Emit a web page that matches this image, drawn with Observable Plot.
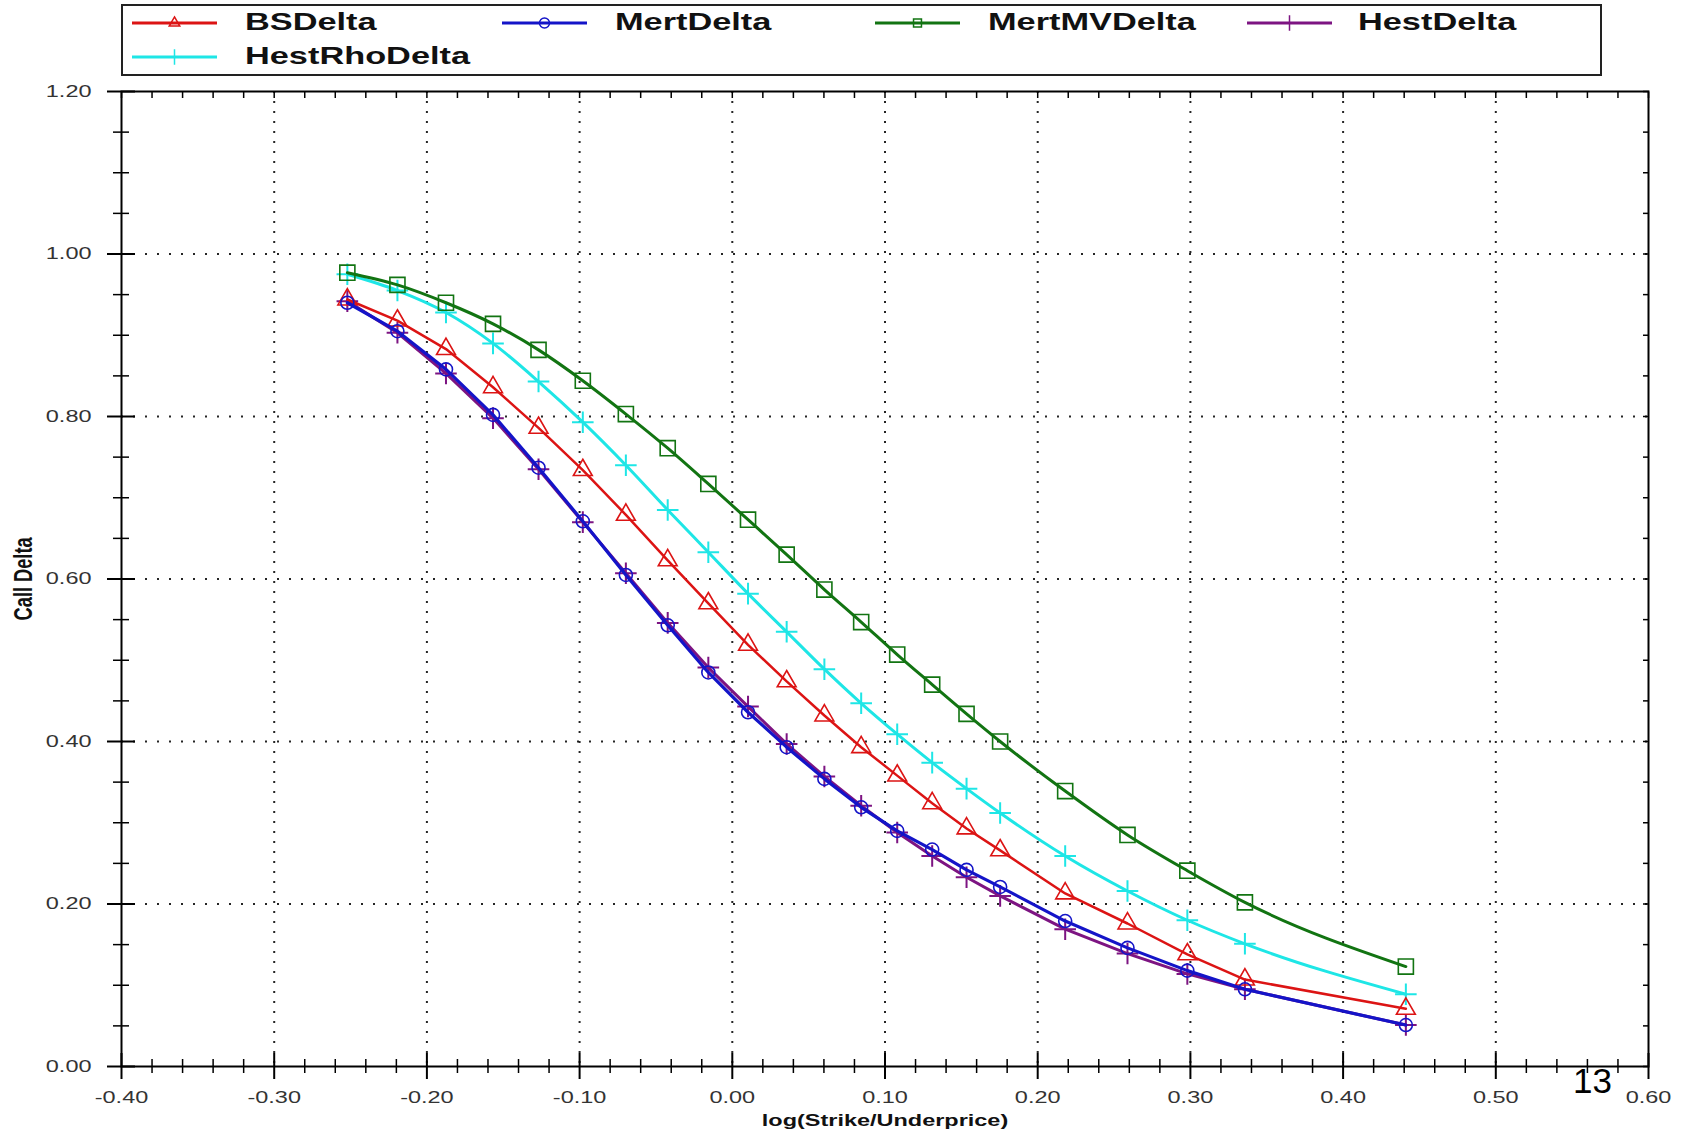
<!DOCTYPE html>
<html>
<head>
<meta charset="utf-8">
<script src="https://cdn.jsdelivr.net/npm/d3@7"></script>
<script src="https://cdn.jsdelivr.net/npm/@observablehq/plot@0.6"></script>
<style>
html, body { margin: 0; padding: 0; background: #fff; overflow: hidden; }
#wrap { position: relative; width: 1683px; height: 1135px; }
#legend { position: absolute; left: 121px; top: 4px; width: 1477px; height: 68px; border: 2px solid #222; background: #fff; }
.lbl { position: absolute; font-family: 'Liberation Sans', Arial, sans-serif; font-size: 24px; font-weight: bold; line-height: 24px; color: #111;
       transform: scaleX(1.43); transform-origin: left center; white-space: nowrap; }
.sw { position: absolute; overflow: visible; }
#chart { position: absolute; left: 0; top: 80px; }
#page { position: absolute; left: 1573px; top: 1063px; font-family: 'Liberation Sans', Arial, sans-serif; font-size: 35px; line-height: 35px; color: #000; }
</style>
</head>
<body>
<div id="wrap">
  <div id="legend"></div>
  <div id="chart"></div>
  <div id="page">13</div>
</div>
<script>
// ---- data ----
const logMoneyness = [-0.2521, -0.2193, -0.1875, -0.1567, -0.1269, -0.0979, -0.0697, -0.0423, -0.0157, 0.0103, 0.0356,
  0.0603, 0.0844, 0.1080, 0.1309, 0.1534, 0.1754, 0.2180, 0.2588, 0.2980, 0.3357, 0.4411];
const bsDelta = [0.944, 0.918, 0.883, 0.836, 0.786, 0.734, 0.679, 0.623, 0.570, 0.519, 0.474,
  0.432, 0.393, 0.358, 0.324, 0.293, 0.266, 0.213, 0.176, 0.138, 0.107, 0.071];
const mertDelta = [0.940, 0.905, 0.858, 0.802, 0.737, 0.671, 0.605, 0.543, 0.485, 0.436, 0.393,
  0.354, 0.319, 0.290, 0.267, 0.242, 0.221, 0.179, 0.146, 0.118, 0.095, 0.051];
const mertMVDelta = [0.977, 0.962, 0.940, 0.914, 0.882, 0.844, 0.803, 0.761, 0.717, 0.673, 0.630,
  0.587, 0.547, 0.507, 0.470, 0.434, 0.400, 0.339, 0.285, 0.241, 0.202, 0.123];
const hestDelta = [0.942, 0.903, 0.853, 0.798, 0.735, 0.670, 0.607, 0.546, 0.491, 0.443, 0.397,
  0.357, 0.321, 0.288, 0.259, 0.233, 0.210, 0.169, 0.139, 0.114, 0.095, 0.051];
const hestRhoDelta = [0.975, 0.955, 0.928, 0.890, 0.843, 0.793, 0.740, 0.685, 0.633, 0.582, 0.535,
  0.489, 0.447, 0.409, 0.374, 0.342, 0.312, 0.259, 0.216, 0.180, 0.151, 0.089];

const seriesNames = ["BSDelta", "MertDelta", "MertMVDelta", "HestDelta", "HestRhoDelta"];
const seriesColors = ["#dc1414", "#1414c8", "#127412", "#7d1482", "#1ee6e6"];
const seriesSymbols = ["triangle", "circle", "square", "plus", "plus"];

const xTicks = [-0.4, -0.3, -0.2, -0.1, 0, 0.1, 0.2, 0.3, 0.4, 0.5, 0.6];
const yTicks = [0, 0.2, 0.4, 0.6, 0.8, 1.0, 1.2];
const xGridTicks = [-0.3, -0.2, -0.1, 0, 0.1, 0.2, 0.3, 0.4, 0.5];
const yGridTicks = [0.2, 0.4, 0.6, 0.8, 1.0];
const xTitle = "log(Strike/Underprice)";
const yTitle = "Call Delta";

// minor tick positions (axis decoration)
const xMinor = d3.range(0, 51).map(i => +(-0.4 + i * 0.02).toFixed(2)).filter(v => !xTicks.some(t => Math.abs(t - v) < 1e-9));
const yMinor = d3.range(0, 25).map(i => +(i * 0.05).toFixed(2)).filter(v => !yTicks.some(t => Math.abs(t - v) < 1e-9));
const xAllTop = d3.range(0, 51).map(i => +(-0.4 + i * 0.02).toFixed(2));
const yAllRight = d3.range(0, 25).map(i => +(i * 0.05).toFixed(2));

const rows = ys => logMoneyness.map((x, i) => ({x, y: ys[i]}));
const font = "'Liberation Sans', Arial, sans-serif";
const none = () => "";
const fmt2 = d => d3.format(".2f")(d).replace("\u2212", "-");

const chart = Plot.plot({
  width: 1683,
  height: 1055,
  marginTop: 11,
  marginBottom: 69,
  marginLeft: 121,
  marginRight: 35,
  x: {domain: [-0.4, 0.6], label: null},
  y: {domain: [0, 1.2], label: null},
  style: {fontFamily: font, fontSize: "17px", color: "#000", background: "#fff", overflow: "visible"},
  marks: [
    Plot.gridX(xGridTicks, {stroke: "#000", strokeOpacity: 0.85, strokeWidth: 2, strokeDasharray: "2,8"}),
    Plot.gridY(yGridTicks, {stroke: "#000", strokeOpacity: 0.85, strokeWidth: 2, strokeDasharray: "2,10"}),
    Plot.frame({stroke: "#000", strokeWidth: 2}),

    // bottom axis: majors both sides, minors both sides
    Plot.axisX(xTicks, {anchor: "bottom", tickSize: 13, tickPadding: 11, tickFormat: fmt2, label: null, strokeWidth: 2, fill: "#333"}),
    Plot.axisX(xTicks, {anchor: "bottom", tickSize: 13, dy: -13, tickFormat: none, label: null, strokeWidth: 2}),
    Plot.axisX(xMinor, {anchor: "bottom", tickSize: 7, tickFormat: none, label: null, strokeWidth: 1.5}),
    Plot.axisX(xMinor, {anchor: "bottom", tickSize: 7, dy: -7, tickFormat: none, label: null, strokeWidth: 1.5}),
    // left axis
    Plot.axisY(yTicks, {anchor: "left", tickSize: 14, tickPadding: 16, tickFormat: fmt2, label: null, strokeWidth: 2, fill: "#333"}),
    Plot.axisY(yTicks, {anchor: "left", tickSize: 14, dx: 14, tickFormat: none, label: null, strokeWidth: 2}),
    Plot.axisY(yMinor, {anchor: "left", tickSize: 8, tickFormat: none, label: null, strokeWidth: 1.5}),
    Plot.axisY(yMinor, {anchor: "left", tickSize: 8, dx: 8, tickFormat: none, label: null, strokeWidth: 1.5}),
    // top & right inward ticks
    Plot.axisX(xAllTop, {anchor: "top", tickSize: 6, dy: 6, tickFormat: none, label: null, strokeWidth: 1.5}),
    Plot.axisY(yAllRight, {anchor: "right", tickSize: 6, dx: -6, tickFormat: none, label: null, strokeWidth: 1.5}),

    // axis titles
    Plot.text([xTitle], {text: d => d, frameAnchor: "bottom", dy: 59, fontSize: 17, fontWeight: "bold", fill: "#111"}),
    Plot.text([yTitle], {text: d => d, frameAnchor: "left", dx: -98, rotate: -90, fontSize: 25, fontWeight: "bold", fill: "#111"}),

    // series (draw order: cyan, purple, red, blue, green)
    Plot.line(rows(hestRhoDelta), {x: "x", y: "y", stroke: seriesColors[4], strokeWidth: 3, curve: "monotone-x"}),
    Plot.dot(rows(hestRhoDelta), {x: "x", y: "y", symbol: "plus", r: 7, stroke: seriesColors[4], strokeWidth: 2, fill: "none"}),
    Plot.line(rows(hestDelta), {x: "x", y: "y", stroke: seriesColors[3], strokeWidth: 3}),
    Plot.dot(rows(hestDelta), {x: "x", y: "y", symbol: "plus", r: 7, stroke: seriesColors[3], strokeWidth: 2, fill: "none"}),
    Plot.line(rows(bsDelta), {x: "x", y: "y", stroke: seriesColors[0], strokeWidth: 2.5}),
    Plot.dot(rows(bsDelta), {x: "x", y: "y", symbol: "triangle", r: 7, stroke: seriesColors[0], strokeWidth: 1.6, fill: "none"}),
    Plot.line(rows(mertDelta), {x: "x", y: "y", stroke: seriesColors[1], strokeWidth: 3.2}),
    Plot.dot(rows(mertDelta), {x: "x", y: "y", symbol: "circle", r: 6.5, stroke: seriesColors[1], strokeWidth: 1.6, fill: "none"}),
    Plot.line(rows(mertMVDelta), {x: "x", y: "y", stroke: seriesColors[2], strokeWidth: 3, curve: "monotone-x"}),
    Plot.dot(rows(mertMVDelta), {x: "x", y: "y", symbol: "square", r: 8.5, stroke: seriesColors[2], strokeWidth: 1.6, fill: "none"})
  ]
});
document.getElementById("chart").append(chart);

// emulate the horizontally stretched lettering of the original image
const svgEl = chart.tagName.toLowerCase() === "svg" ? chart : chart.querySelector("svg");
const svgRect = svgEl.getBoundingClientRect();
const frameMidY = svgRect.top + (11 + (1055 - 69)) / 2;
svgEl.querySelectorAll("text").forEach(t => {
  const w = t.getComputedTextLength();
  if (!(w > 0)) return;
  if (t.textContent === yTitle) {
    t.setAttribute("textLength", "83");
    t.setAttribute("lengthAdjust", "spacingAndGlyphs");
    // re-centre the condensed, rotated title on the frame's middle
    const r = t.getBoundingClientRect();
    const m = frameMidY - (r.top + r.height / 2);
    const x0 = +(t.getAttribute("x") || 0);
    t.setAttribute("x", (x0 - m).toFixed(1));
  } else {
    t.setAttribute("textLength", (w * 1.38).toFixed(1));
    t.setAttribute("lengthAdjust", "spacingAndGlyphs");
  }
});

// legend
const legend = d3.select("#legend");
const legendPos = [
  {sx: 9, sy: 6.7, tx: 122, ty: 4.3},
  {sx: 379, sy: 6.7, tx: 492, ty: 4.3},
  {sx: 752, sy: 6.7, tx: 865, ty: 4.3},
  {sx: 1124, sy: 6.7, tx: 1235, ty: 4.3},
  {sx: 9, sy: 41.3, tx: 122, ty: 38.3}
];
const symMap = {triangle: d3.symbolTriangle2, circle: d3.symbolCircle, square: d3.symbolSquare2, plus: d3.symbolPlus};
seriesNames.forEach((name, i) => {
  const p = legendPos[i];
  const sw = legend.append("svg").attr("class", "sw").attr("width", 85).attr("height", 20)
    .style("left", p.sx + "px").style("top", p.sy + "px");
  sw.append("line").attr("x1", 0).attr("x2", 85).attr("y1", 10).attr("y2", 10)
    .attr("stroke", seriesColors[i]).attr("stroke-width", 3);
  sw.append("path").attr("d", d3.symbol(symMap[seriesSymbols[i]], 80)())
    .attr("transform", "translate(42.5,10)").attr("fill", "none")
    .attr("stroke", seriesColors[i]).attr("stroke-width", 1.5);
  legend.append("div").attr("class", "lbl").style("left", p.tx + "px").style("top", p.ty + "px").text(name);
});
</script>
</body>
</html>
